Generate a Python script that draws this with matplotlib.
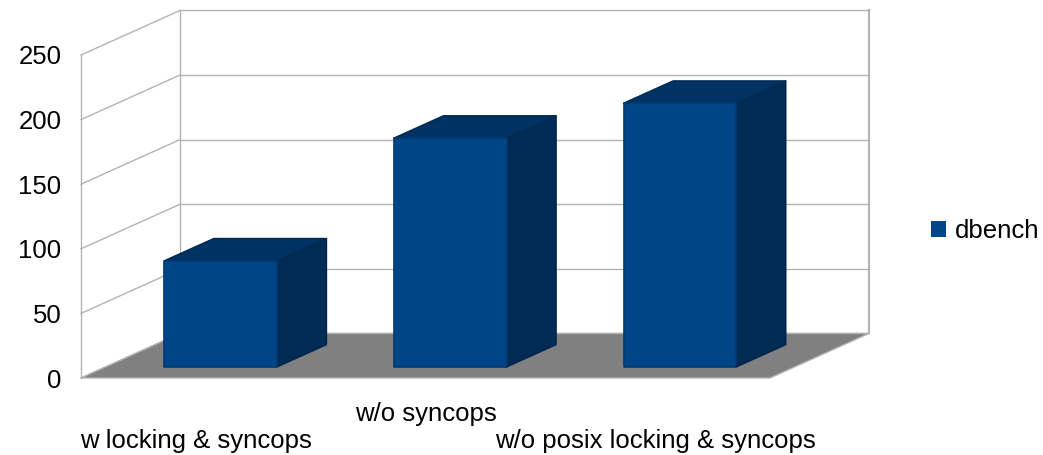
import matplotlib.pyplot as plt
from matplotlib.patches import Polygon, Patch

plt.rcParams['font.family'] = ['Liberation Sans', 'DejaVu Sans']

# dbench results
categories = ['w locking & syncops', 'w/o syncops', 'w/o posix locking & syncops']
dbench = [82, 177, 204]
series_name = 'dbench'
yticks = [0, 50, 100, 150, 200, 250]

# pseudo-3D look: depth offset in data units (categories, value)
DX, DY = 0.431, 34.5
BAR_W = 0.49
grid_c = '#b3b3b3'
front_c = '#004586'
side_c = '#002b55'
top_c = '#003263'


def shift(pts, d):
    return [(x + d * DX, y + d * DY) for x, y in pts]


fig = plt.figure(figsize=(10.43, 4.55), dpi=100)
ax = fig.add_axes([81 / 1043, 1 - 378 / 455, 689 / 1043, 323 / 455])
ax.set_xlim(0, 3)
ax.set_ylim(0, 250)
for s in ax.spines.values():
    s.set_visible(False)
ax.set_xticks([])
ax.set_yticks(yticks)
ax.tick_params(axis='y', length=0, pad=14, labelsize=18.5)

n = len(categories)
ymax = yticks[-1]

# back wall and side wall grid
for v in yticks:
    ax.plot([DX, n + DX], [v + DY, v + DY], color=grid_c, lw=1, clip_on=False, zorder=1)
    ax.plot([0, DX], [v, v + DY], color=grid_c, lw=1, clip_on=False, zorder=1)
ax.plot([0, 0], [0, ymax], color=grid_c, lw=1, clip_on=False, zorder=1)
ax.plot([DX, DX], [DY, ymax + DY], color=grid_c, lw=1, clip_on=False, zorder=1)
ax.plot([n + DX, n + DX], [DY, ymax + DY], color=grid_c, lw=1.5, clip_on=False, zorder=1)

# floor
floor = Polygon([(0, 0), (n, 0), (n + DX, DY), (DX, DY)], closed=True,
                facecolor='#808080', edgecolor=grid_c, lw=1, clip_on=False, zorder=2)
ax.add_patch(floor)

# bars
for i, v in enumerate(dbench):
    xl = i + 0.5 - BAR_W / 2
    xr = i + 0.5 + BAR_W / 2
    front = shift([(xl, 0), (xr, 0), (xr, v), (xl, v)], 0.25)
    side = shift([(xr, 0), (xr + 0.5 * DX, 0.5 * DY), (xr + 0.5 * DX, v + 0.5 * DY), (xr, v)], 0.25)
    top = shift([(xl, v), (xr, v), (xr + 0.5 * DX, v + 0.5 * DY), (xl + 0.5 * DX, v + 0.5 * DY)], 0.25)
    for pts, fc, ec in [(side, side_c, '#00264b'), (top, top_c, '#002b55'), (front, front_c, '#003a72')]:
        ax.add_patch(Polygon(pts, closed=True, facecolor=fc, edgecolor=ec, lw=1.2,
                             joinstyle='round', clip_on=False, zorder=3))

# staggered category labels
for i, lab in enumerate(categories):
    y = -48.5 if i % 2 == 0 else -27.5
    ax.text(i + 0.5, y, lab, ha='center', va='center', fontsize=18.5, clip_on=False)

fig.legend(handles=[Patch(facecolor=front_c, edgecolor='none', label=series_name)],
           loc='center left', bbox_to_anchor=(931 / 1043, 1 - 231 / 455), frameon=False,
           fontsize=18.5, handlelength=0.58, handleheight=0.58, handletextpad=0.35,
           borderpad=0, borderaxespad=0)

fig.savefig('out.png', dpi=100)
